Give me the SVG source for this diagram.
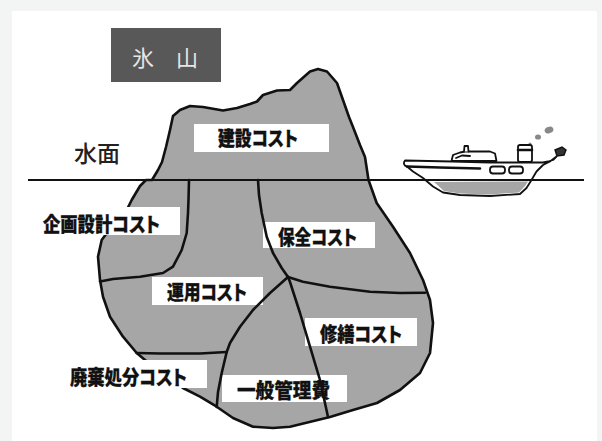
<svg xmlns="http://www.w3.org/2000/svg" width="602" height="441" viewBox="0 0 602 441">
  <style>
    .ink { fill: none; stroke: #111; stroke-width: 2.6; stroke-linejoin: round; stroke-linecap: round; }
    .ice { fill: #a6a6a6; stroke: #111; stroke-width: 2.6; stroke-linejoin: round; }
    .box { fill: #fff; }
    .lbl { font-family: "Noto Sans CJK JP", "Noto Sans CJK SC", sans-serif; font-weight: 900; font-size: 20px; fill: #111; stroke: #111; stroke-width: 0.3; text-anchor: middle; font-feature-settings: "palt"; }
    .boat { fill: #fff; stroke: #111; stroke-width: 1.8; stroke-linejoin: round; stroke-linecap: round; }
  </style>

  <!-- page -->
  <rect x="0" y="0" width="602" height="441" fill="#f3f5f5"/>
  <rect x="12" y="11" width="585" height="430" fill="#fff"/>

  <!-- title -->
  <g id="title">
    <rect x="111" y="28" width="110" height="54" fill="#585858"/>
    <text x="165" y="65.5" font-family="Noto Sans CJK JP, sans-serif" font-size="22" fill="#e6e6e6" text-anchor="middle">氷　山</text>
  </g>

  <!-- water surface -->
  <g id="water">
    <text x="97" y="162" font-family="Noto Sans CJK JP, sans-serif" font-size="23" font-weight="500" fill="#222" text-anchor="middle">水面</text>
  </g>

  <!-- iceberg body -->
  <g id="iceberg">
    <path class="ice" d="M152,180 L158,170 L162,162 L166,147 L170,130 L173,116 L180,110 L190,106 L203,107 L223,110.5 L237,108 L250,104 L257,101.5 L263,95 L277,90.5 L290,90 L297,83 L310,71.5 L318,69 L327,71.5 L337,83 L343,100 L349,117 L353,127 L360,145 L365,157 L368.5,180 L376.7,203 L393,226.7 L410,253 L423,280 L430,300 L433,323 L430,353 L420,373 L400,390 L377,403 L353,410 L330,417 L290,426.7 L273,428 L253,426.7 L233,418 L216.7,406.7 L200,396.7 L183,388 L160,372 L145,360 L136.7,353 L123,336.7 L110,316.7 L103,296.7 L100,280 L98,256.7 L101.7,240 L115,222 L126.7,210 L131.7,200 L140,186 L146,180 Z"/>
  </g>

  <!-- cost labels -->
  <g id="kensetsu">
    <rect class="box" x="194" y="124" width="135" height="28"/>
    <text class="lbl" x="258" y="146" textLength="80" lengthAdjust="spacingAndGlyphs">建設コスト</text>
  </g>
  <g id="kikaku">
    <rect class="box" x="38" y="207" width="142" height="28"/>
    <text class="lbl" x="101.5" y="231.5" textLength="117" lengthAdjust="spacingAndGlyphs">企画設計コスト</text>
  </g>
  <g id="hozen">
    <rect class="box" x="263" y="222" width="112" height="26"/>
    <text class="lbl" x="317.5" y="244.5" textLength="79" lengthAdjust="spacingAndGlyphs">保全コスト</text>
  </g>
  <g id="unyou">
    <rect class="box" x="152" y="277" width="111" height="28"/>
    <text class="lbl" x="207" y="299.5" textLength="80" lengthAdjust="spacingAndGlyphs">運用コスト</text>
  </g>
  <g id="shuuzen">
    <rect class="box" x="305" y="318" width="112" height="28"/>
    <text class="lbl" x="361" y="342" textLength="82" lengthAdjust="spacingAndGlyphs">修繕コスト</text>
  </g>
  <g id="haiki">
    <rect class="box" x="64" y="360" width="143" height="28"/>
    <text class="lbl" x="128.5" y="384.5" textLength="117" lengthAdjust="spacingAndGlyphs">廃棄処分コスト</text>
  </g>
  <g id="ippan">
    <rect class="box" x="222" y="375" width="125" height="27"/>
    <text class="lbl" x="283.5" y="397.5" textLength="93" lengthAdjust="spacingAndGlyphs">一般管理費</text>
  </g>

  <!-- boundaries between cost regions -->
  <g id="connectors" class="ink">
    <path d="M189,180 L188.5,200 L188,213 L186.7,233 L181.7,250 L173,266.7 L163,273 L140,276.7 L113,279 L100,281.5"/>
    <path d="M258,180 L259,195 L261.7,213 L266.7,236.7 L273,253 L281.7,268 L288,277"/>
    <path d="M288,277 L303,281.7 L330,286.7 L370,291.7 L400,293 L425,292.7"/>
    <path d="M288,277 L290,282 L300,313 L310,346.7 L320,380 L328,417"/>
    <path d="M288,277 L270,293 L253,310 L240,326.7 L230,343 L226.7,352"/>
    <path d="M136.7,353 L160,353.5 L200,353.5 L226.7,352"/>
    <path d="M226.7,352 L221.7,373 L218,392 L216.7,407"/>
  </g>

  <!-- boat -->
  <g id="boat">
    <!-- smoke -->
    <circle cx="530" cy="144" r="1.6" fill="#888"/>
    <ellipse cx="538" cy="137" rx="3" ry="2.6" fill="#888"/>
    <ellipse cx="549" cy="130" rx="4.5" ry="3.2" fill="#888" transform="rotate(-20 549 130)"/>
    <!-- cabin -->
    <path class="boat" d="M451.5,161 L453,155 L460,152.5 L465,151.5 L490,151.5 L495,153.5 L496.5,161 Z"/>
    <path class="boat" d="M464,151.5 L464.5,146 L468,146 L468.5,151.5"/>
    <path class="boat" d="M456,158 L462,155.5 L470,156"/>
    <!-- funnel -->
    <rect class="boat" x="518" y="145" width="14" height="17" rx="2"/>
    <line class="ink" x1="518" y1="150" x2="532" y2="150" stroke-width="1.6"/>
    <!-- hull -->
    <path class="boat" d="M405,160.5 C403,163 404,166 407,166.5 L413,171.5 L423,178 L433,186.5 L443,192.5 L460,195 L490,196 L520,194 L526.5,188 L531.5,180 L536.5,171.5 L543,165 L550,161.5 L556.5,156.5 L553,160 L548,161.5 L543,162.5 L490,162.5 L452,161.5 Z"/>
    <path class="ink" d="M407,166.5 L440,167.5 L480,168.5" stroke-width="1.6"/>
    <!-- under water part -->
    <path d="M434,182 L444,191 L460,193.5 L490,194.5 L519,192.5 L525,186 L528,181.5 Z" fill="#a6a6a6"/>
    <!-- portholes -->
    <rect class="boat" x="490" y="166.5" width="15" height="7" rx="3"/>
    <rect class="boat" x="509" y="166.5" width="14" height="7" rx="3"/>
    <!-- bow flag -->
    <path d="M555,150 L562,147 L566,150 L564,155 L557,156 Z" fill="#333" stroke="#111" stroke-width="1.4"/>
  </g>

  <!-- waterline -->
  <line x1="28" y1="180" x2="584" y2="180" stroke="#111" stroke-width="2"/>
</svg>
